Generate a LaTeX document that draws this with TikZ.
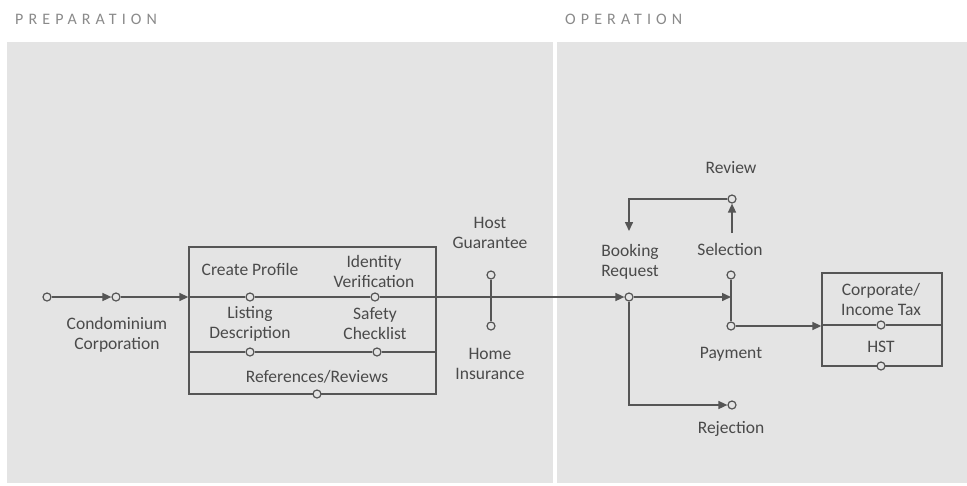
\documentclass[tikz,border=0pt]{standalone}
\usepackage{fontspec}
\setmainfont{Carlito}
\newfontfamily\titlefont[LetterSpace=32]{Carlito}
\usetikzlibrary{arrows.meta}
\definecolor{panel}{HTML}{E4E4E4}
\definecolor{ln}{HTML}{555555}
\definecolor{txt}{HTML}{4A4A4A}
\definecolor{ttl}{HTML}{8A8A8A}
\begin{document}
\begin{tikzpicture}[x=1pt,y=-1pt,
  port/.style={circle,draw=ln,line width=1.2pt,fill=panel,inner sep=0pt,minimum size=8pt},
  lbl/.style={text=txt,font=\fontsize{17.5}{20}\selectfont,align=center,inner sep=0pt},
  conn/.style={draw=ln,line width=1.5pt},
  arr/.style={conn,-{Triangle[length=9pt,width=8pt]}},
  ttlstyle/.style={text=ttl,font=\titlefont\fontsize{16}{18}\selectfont,anchor=west,inner sep=0pt},
  frame/.style={draw=ln,line width=1.3pt,inner sep=0pt}
]
\useasboundingbox (0,0) rectangle (967,485);
\fill[white] (0,0) rectangle (967,485);
\fill[panel] (7,42) rectangle (553,483);
\fill[panel] (557,42) rectangle (967,483);

% titles
\node[ttlstyle] (t1) at (15,19) {PREPARATION};
\node[ttlstyle] (t2) at (565,19) {OPERATION};

% frames
\node[frame, minimum width=247pt, minimum height=147pt] (prep) at (312.5,320.5) {};
\node[frame, minimum width=120pt, minimum height=93pt] (tax) at (882,319.5) {};

% ports
\node[port] (c0) at (47,297) {};
\node[port] (c1) at (116,297) {};
\node[port] (p1) at (250,297) {};
\node[port] (p2) at (375,297) {};
\node[port] (p3) at (250,352) {};
\node[port] (p4) at (377,352) {};
\node[port] (p5) at (317,394) {};
\node[port] (hg) at (491,275) {};
\node[port] (hi) at (491,326) {};
\node[port] (br) at (629,297) {};
\node[port] (sel) at (731,275) {};
\node[port] (pay) at (731,326) {};
\node[port] (rev) at (732,199) {};
\node[port] (rej) at (732,405) {};
\node[port] (x1) at (881,325) {};
\node[port] (x2) at (881,366) {};
\coordinate (bkin) at (629,231);
\coordinate (selup) at (732,233);

% labels
\node[lbl] (condo) at (117,335) {Condominium\\Corporation};
\node[lbl] (create) at (250,269) {Create Profile};
\node[lbl] (ident) at (374,271) {Identity\\Verification};
\node[lbl] (listing) at (250,324) {Listing\\Description};
\node[lbl] (safety) at (375,324) {Safety\\Checklist};
\node[lbl] (refs) at (317,377) {References/Reviews};
\node[lbl] (host) at (490,233) {Host\\Guarantee};
\node[lbl] (home) at (490,364) {Home\\Insurance};
\node[lbl] (booking) at (630,262) {Booking\\Request};
\node[lbl] (review) at (731,168) {Review};
\node[lbl] (selection) at (730,249) {Selection};
\node[lbl] (payment) at (731,354) {Payment};
\node[lbl] (rejection) at (731,429) {Rejection};
\node[lbl] (corp) at (881,299) {Corporate/\\Income Tax};
\node[lbl] (hst) at (881,347) {HST};

% connectors
\draw[arr] (c0) -- (c1);
\draw[arr] (c1) -- (c1 -| prep.west);
\draw[conn] (c1 -| prep.west) -- (p1) -- (p2) -- (p2 -| prep.east);
\draw[arr] (p2 -| prep.east) -- (br);
\draw[conn] (hg) -- (hi);
\draw[conn] (p3 -| prep.west) -- (p3) -- (p4) -- (p4 -| prep.east);
\draw[arr] (br) -- (br -| sel);
\draw[conn] (sel) -- (pay);
\draw[arr] (pay) -- (pay -| tax.west);
\draw[conn] (tax.west |- x1) -- (x1) -- (tax.east |- x1);
\draw[arr] (br) |- (rej);
\draw[arr] (rev) -| (bkin);
\draw[arr] (selup) -- (rev);
\end{tikzpicture}
\end{document}
